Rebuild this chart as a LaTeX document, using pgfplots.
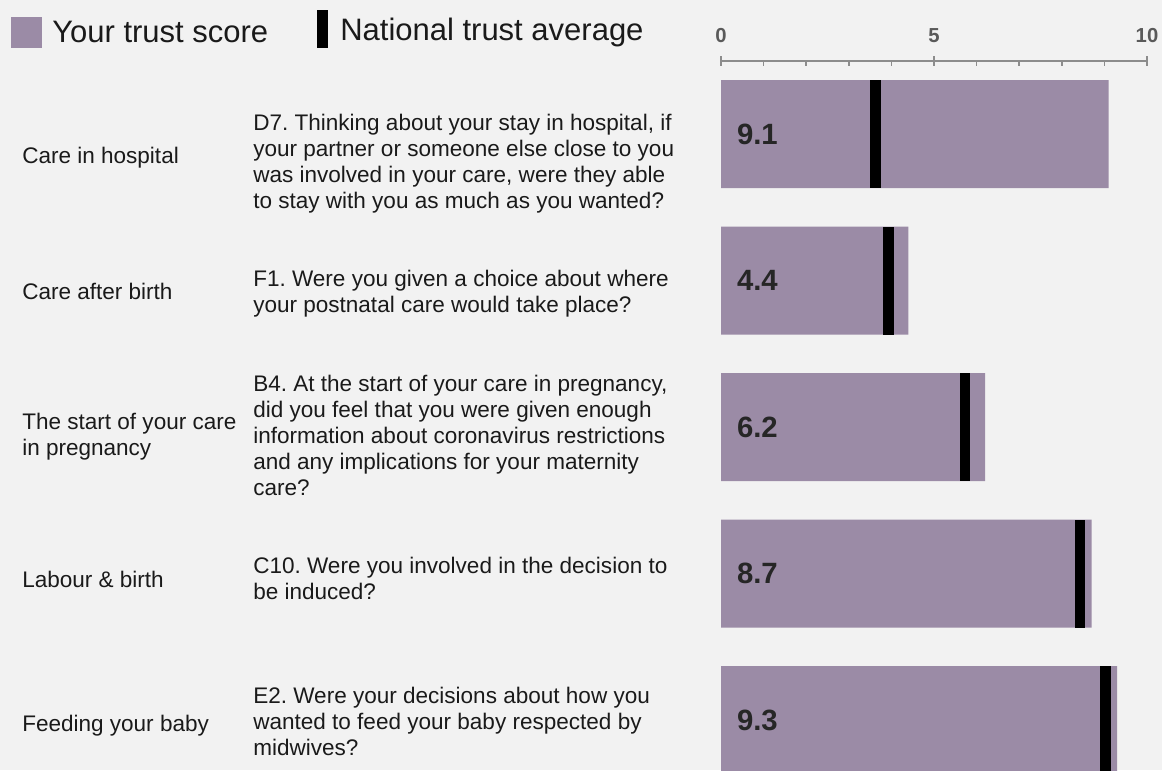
\documentclass[border=0pt]{standalone}
\usepackage{pgfplots}
\usepackage{pgfplotstable}
\pgfplotsset{compat=1.18}
\usepackage{fontspec}
\setmainfont{Liberation Sans}
\frenchspacing
\definecolor{bg}{HTML}{F2F2F2}
\definecolor{barc}{HTML}{9B8BA6}
\definecolor{axc}{HTML}{8C8C8C}
\definecolor{tickc}{HTML}{5A5A5A}
\definecolor{txt}{HTML}{1A1A1A}
\definecolor{valc}{HTML}{262626}
\newcommand\qfont{\fontsize{16.9pt}{19.5pt}\selectfont}
\newcommand\lfont{\fontsize{23.25pt}{26pt}\selectfont}

\pgfplotstableread{
y score avg err
0 9.1 3.63 0.3686
1 4.4 3.93 0.3686
2 6.2 5.73 0.3686
3 8.7 8.43 0.3686
4 9.3 9.03 0.3686
}\data

\begin{document}
\begin{tikzpicture}
\fill[bg] (0,0) rectangle (871.5pt,577.5pt);
\begin{axis}[
  at={(540.75pt,0pt)}, anchor=south west,
  scale only axis, width=319.5pt, height=531.75pt,
  xmin=0, xmax=10, ymin=-0.4983, ymax=4.3413, y dir=reverse,
  axis x line=top, axis y line=none,
  x axis line style={-, draw=axc, line width=1.5pt},
  xtick={0,5,10}, minor xtick={1,2,3,4,6,7,8,9},
  tick align=inside,
  major tick length=3.75pt, minor tick length=3.75pt,
  every tick/.style={draw=axc, line width=1.2pt},
  extra x ticks={0,5,10}, extra x tick labels={},
  extra x tick style={tick align=outside},
  xticklabel style={font=\bfseries\fontsize{15.2pt}{16pt}\selectfont, text=tickc, inner sep=0pt, yshift=13.5pt},
  /pgf/number format/assume math mode=true,
  ytick=\empty,
]
\addplot[xbar, bar width=81pt, fill=barc, draw=none] table[x=score, y=y] \data;
\addplot[only marks, mark=none, forget plot,
  error bars/.cd, y dir=both, y explicit, error mark=none,
  error bar style={line width=8pt, draw=black, solid}]
  table[x=avg, y=y, y error=err] \data;
\addplot[only marks, mark=none, nodes near coords, point meta=explicit,
  nodes near coords align={anchor=west},
  every node near coord/.append style={anchor=west, xshift=11.8pt, inner sep=0pt,
    font=\bfseries\fontsize{22pt}{24pt}\selectfont, text=valc}]
  table[x expr=0, y=y, meta=score] \data;
\end{axis}
\begin{scope}[x=0.75pt, y=-0.75pt, shift={(0pt,577.5pt)}]
  % legend
  \fill[barc] (11,17) rectangle (42,48);
  \node[anchor=base west, inner sep=0, font=\lfont, text=txt] at (52,43) {Your trust score};
  \fill[black] (317,10) rectangle (328,48);
  \node[anchor=base west, inner sep=0, font=\lfont, text=txt] at (340,41) {National trust average};
  % category labels
  \begin{scope}[every node/.style={anchor=north west, inner sep=0, align=left, font=\qfont, text=txt}]
  \node at (22,146.7) {Care in hospital};
  \node at (22,282.7) {Care after birth};
  \node at (22,413) {The start of your care\\in pregnancy};
  \node at (22,570.7) {Labour \& birth};
  \node at (22,715) {Feeding your baby};
  \node at (253,114) {D7. Thinking about your stay in hospital, if\\your partner or someone else close to you\\was involved in your care, were they able\\to stay with you as much as you wanted?};
  \node at (253,270) {F1. Were you given a choice about where\\your postnatal care would take place?};
  \node at (253,375) {B4. At the start of your care in pregnancy,\\did you feel that you were given enough\\information about coronavirus restrictions\\and any implications for your maternity\\care?};
  \node at (253,556.7) {C10. Were you involved in the decision to\\be induced?};
  \node at (253,686.7) {E2. Were your decisions about how you\\wanted to feed your baby respected by\\midwives?};
  \end{scope}
\end{scope}
\pgfresetboundingbox
\path[use as bounding box] (0,0) rectangle (871.5pt,577.5pt);
\end{tikzpicture}
\end{document}
